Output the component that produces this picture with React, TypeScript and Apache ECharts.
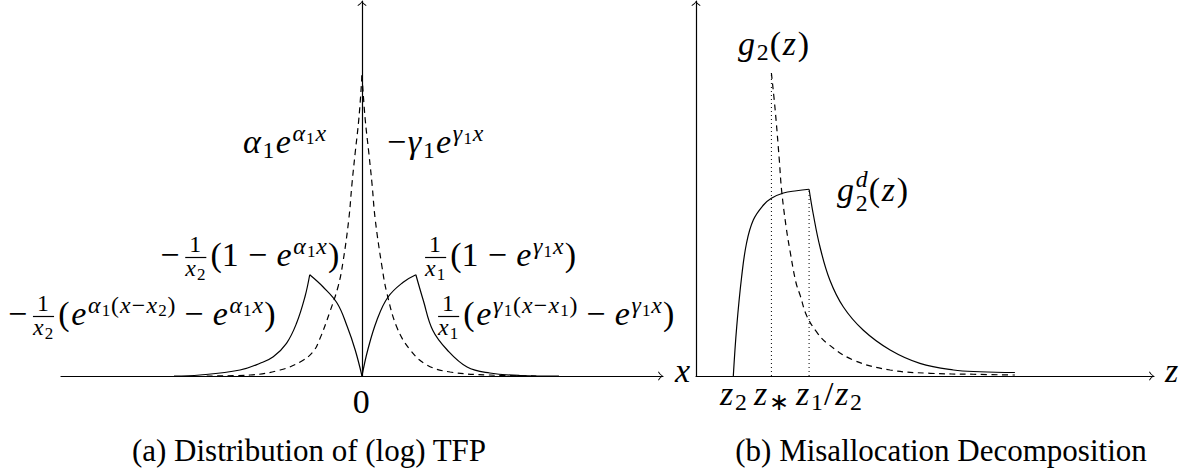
import React, { useEffect, useRef } from 'react';
import * as echarts from 'echarts';

// ---------------- data ----------------
// Panel (a): x in units where x1 = 1, x2 = -1 ; y = density
const aDashedLeft: number[][] = [
  [-2.94, 0], [-2.12, 0.013], [-1.55, 0.08], [-1.17, 0.187], [-0.93, 0.32], [-0.8, 0.493],
  [-0.61, 0.853], [-0.45, 1.2], [-0.36, 1.52], [-0.25, 2.09], [-0.19, 2.56], [-0.13, 2.97],
  [-0.057, 3.45], [0, 4.01],
];
const aDashedRight: number[][] = [
  [0, 4.01], [0.057, 3.45], [0.13, 2.97], [0.19, 2.56], [0.25, 2.09], [0.38, 1.45],
  [0.47, 1.11], [0.66, 0.65], [0.91, 0.35], [1.23, 0.147], [1.67, 0.053], [2.42, 0.013], [3.3, 0],
];
const aSolidOuterLeft: number[][] = [
  [-3.56, 0], [-3.07, 0.013], [-2.31, 0.08], [-1.93, 0.17], [-1.68, 0.257], [-1.43, 0.436],
  [-1.24, 0.703], [-1.08, 1.057], [-0.99, 1.35],
];
const aSolidInnerLeft: number[][] = [
  [-0.99, 1.35], [-0.74, 1.19], [-0.47, 0.97], [-0.28, 0.66], [-0.13, 0.35], [0, 0],
];
const aSolidInnerRight: number[][] = [
  [0, 0], [0.11, 0.35], [0.28, 0.74], [0.49, 1.05], [0.78, 1.25], [1.02, 1.35],
];
const aSolidOuterRight: number[][] = [
  [1.02, 1.35], [1.16, 1.01], [1.34, 0.61], [1.61, 0.35], [1.99, 0.12], [2.42, 0.04],
  [2.99, 0.007], [3.73, 0],
];

// Panel (b): z in units where z2 = 1, z* = 2, z1/z2 = 3
const bSolidRise: number[][] = [
  [0.99, 0], [1.08, 0.657], [1.21, 1.32], [1.34, 1.77], [1.52, 2.08], [1.79, 2.28],
  [2.0, 2.37], [2.32, 2.44], [2.67, 2.47], [3.0, 2.49],
];
const bSolidFall: number[][] = [
  [3.0, 2.49], [3.11, 2.16], [3.29, 1.72], [3.55, 1.28], [3.91, 0.92], [4.44, 0.61],
  [5.15, 0.347], [5.94, 0.169], [6.83, 0.08], [7.53, 0.057], [8.46, 0.047],
];
const bDashed: number[][] = [
  [2.0, 4.04], [2.1, 3.55], [2.21, 2.88], [2.27, 2.48], [2.39, 1.99], [2.49, 1.68],
  [2.65, 1.25], [2.76, 1.08], [2.94, 0.8], [3.2, 0.587], [3.47, 0.44], [4.17, 0.213],
  [5.15, 0.08], [6.21, 0.036], [7.36, 0.023], [8.46, 0.013],
];
const bDottedZStar: number[][] = [[2.0, 0], [2.0, 4.04]];
const bDottedZ1Z2: number[][] = [[3.0, 0], [3.0, 2.49]];

const captionA = '(a) Distribution of (log) TFP';
const captionB = '(b) Misallocation Decomposition';

// ---------------- math text layout ----------------
const FAMILY = 'Liberation Serif';
const C = 0.34;      // central baseline offset (em)
const KERN = 0.05;   // extra advance per glyph (em of its own size)
type Tok = { t: string; s?: number; it?: boolean; dy?: number; adv?: boolean; pre?: number; post?: number };
type Frac = { num: Tok[]; den: Tok[] };
type Item = Tok | Frac;

let mctx: CanvasRenderingContext2D | null = null;
function measure(t: string, size: number, it: boolean) {
  if (!mctx) mctx = document.createElement('canvas').getContext('2d');
  mctx!.font = `${it ? 'italic ' : ''}${size}px "${FAMILY}"`;
  return mctx!.measureText(t).width;
}
function textStyle(text: string, size: number, it: boolean, align = 'left') {
  return {
    text, fontSize: size, fontFamily: FAMILY, fontStyle: it ? 'italic' : 'normal', fontWeight: 'normal',
    fill: '#000', align, verticalAlign: 'middle',
  };
}
const R = (t: string, o: Partial<Tok> = {}): Tok => ({ t, ...o });
const I = (t: string, o: Partial<Tok> = {}): Tok => ({ t, it: true, ...o });
const SUP = { s: 0.7, dy: -0.363 };
const SUPSUB = { s: 0.5, dy: -0.258 };
const SUB = { s: 0.7, dy: 0.15 };
const BIN = { pre: 0.222, post: 0.222 };
const FR = (d: string): Frac => ({ num: [R('1', { s: 0.7 })], den: [I('x', { s: 0.7 }), R(d, { s: 0.5, dy: 0.105 })] });

function tokAdv(k: Tok, F: number) {
  const s = k.s ?? 1;
  return measure(k.t, s * F, !!k.it) + KERN * s * F;
}
function itemW(it: Item, F: number): number {
  if ('num' in it) return 0.24 * F + Math.max(runW(it.num, F), runW(it.den, F));
  return (it.pre ?? 0) * F + (it.adv === false ? 0 : tokAdv(it, F)) + (it.post ?? 0) * F;
}
function runW(items: Item[], F: number) { return items.reduce((a, it) => a + itemW(it, F), 0); }

function emitRun(items: Item[], x: number, base: number, F: number, out: any[]) {
  let cx = x;
  for (const it of items) {
    if ('num' in it) {
      const nw = runW(it.num, F), dw = runW(it.den, F), w = Math.max(nw, dw);
      const bx = cx + 0.12 * F;
      const axis = base - 0.25 * F;
      out.push({ type: 'rect', silent: true, shape: { x: bx, y: axis - 0.6, width: w, height: 1.2 }, style: { fill: '#000' } });
      emitRun(it.num, bx + (w - nw) / 2, axis - 0.17 * F, F, out);
      emitRun(it.den, bx + (w - dw) / 2, axis + 0.56 * F, F, out);
      cx += w + 0.24 * F;
    } else {
      const size = (it.s ?? 1) * F;
      cx += (it.pre ?? 0) * F;
      out.push({
        type: 'text', silent: true, x: cx, y: base + (it.dy ?? 0) * F - C * size,
        style: textStyle(it.t, size, !!it.it),
      });
      if (it.adv !== false) cx += tokAdv(it, F);
      cx += (it.post ?? 0) * F;
    }
  }
}
function math(items: Item[], x: number, base: number, F: number, align: 'left' | 'center' | 'right', out: any[]) {
  const w = runW(items, F);
  const x0 = align === 'left' ? x : align === 'center' ? x - w / 2 : x - w;
  emitRun(items, x0, base, F, out);
}

const labA1: Item[] = [I('α'), R('1', SUB), I('e'), I('α', SUP), R('1', SUPSUB), I('x', SUP)];
const labA2: Item[] = [R('−'), I('γ'), R('1', SUB), I('e'), I('γ', SUP), R('1', SUPSUB), I('x', SUP)];
const labA3: Item[] = [R('−'), FR('2'), R('(1'), R('−', BIN), I('e'), I('α', SUP), R('1', SUPSUB), I('x', SUP), R(')')];
const labA4: Item[] = [FR('1'), R('(1'), R('−', BIN), I('e'), I('γ', SUP), R('1', SUPSUB), I('x', SUP), R(')')];
const labA5: Item[] = [R('−'), FR('2'), R('('), I('e'), I('α', SUP), R('1', SUPSUB), R('(', SUP), I('x', SUP), R('−', SUP), I('x', SUP), R('2', SUPSUB), R(')', SUP),
  R('−', BIN), I('e'), I('α', SUP), R('1', SUPSUB), I('x', SUP), R(')')];
const labA6: Item[] = [FR('1'), R('('), I('e'), I('γ', SUP), R('1', SUPSUB), R('(', SUP), I('x', SUP), R('−', SUP), I('x', SUP), R('1', SUPSUB), R(')', SUP),
  R('−', BIN), I('e'), I('γ', SUP), R('1', SUPSUB), I('x', SUP), R(')')];
const labG2: Item[] = [I('g'), R('2', SUB), R('('), I('z'), R(')')];
const labG2d: Item[] = [I('g'), I('d', { s: 0.7, dy: -0.42, adv: false }), R('2', { s: 0.7, dy: 0.3 }), R('('), I('z'), R(')')];
const labZ2: Item[] = [I('z'), R('2', SUB)];
const labZs: Item[] = [I('z'), R('∗', SUB)];
const labZ12: Item[] = [I('z'), R('1', SUB), R('/'), I('z'), R('2', SUB)];

const ARROW = 'path://M9 0Q6 5.5 0 8.5L1 10Q6.5 7.5 9 2.4Q11.5 7.5 17 10L18 8.5Q12 5.5 9 0Z';

function axisLine(onZero: boolean) {
  return {
    show: true, onZero,
    symbol: ['none', ARROW], symbolSize: [9, 5], symbolOffset: [0, -2.5],
    lineStyle: { color: '#000', width: 1.2 },
  };
}
const hidden = { axisTick: { show: false }, axisLabel: { show: false }, splitLine: { show: false } };

function line(data: number[][], idx: number, kind: 'solid' | 'dashed' | 'dotted', smooth: number | boolean = 0.4) {
  return {
    type: 'line', data, xAxisIndex: idx, yAxisIndex: idx, symbol: 'none', showSymbol: false, silent: true,
    smooth, clip: false,
    lineStyle: {
      color: '#000', width: kind === 'dotted' ? 1 : 1.2,
      type: kind === 'solid' ? 'solid' : kind === 'dashed' ? [6, 4.5] : [1, 3],
    },
  };
}

function buildOption() {
  const F = 34;
  const g: any[] = [];
  math(labA1, 243, 153, F, 'left', g);
  math(labA2, 387, 153, F, 'left', g);
  math(labA3, 341, 266, F, 'right', g);
  math(labA4, 421, 266, F, 'left', g);
  math(labA5, 8, 325, F, 'left', g);
  math(labA6, 434, 325, F, 'left', g);
  math([R('0')], 362, 413, F, 'center', g);
  math([I('x')], 675, 382, F, 'left', g);
  math([I('z')], 1165, 382, F, 'left', g);
  math(labG2, 738, 55, F, 'left', g);
  math(labG2d, 837, 201, F, 'left', g);
  math(labZ2, 734, 405, F, 'center', g);
  math(labZs, 772, 405, F, 'center', g);
  math(labZ12, 796, 405, F, 'left', g);
  for (const [t, cx] of [[captionA, 309], [captionB, 941]] as [string, number][]) {
    g.push({ type: 'text', silent: true, x: cx, y: 461 - C * 31, style: textStyle(t, 31, false, 'center') });
  }

  return {
    animation: false,
    backgroundColor: '#fff',
    grid: [
      { left: 61, top: 1, width: 602, height: 375, outerBoundsMode: 'none' },
      { left: 696, top: 1, width: 458, height: 375, outerBoundsMode: 'none' },
    ],
    xAxis: [
      { gridIndex: 0, type: 'value', min: -5.7, max: 5.7, axisLine: axisLine(true), ...hidden },
      { gridIndex: 1, type: 'value', min: 0, max: 12.15, axisLine: axisLine(true), ...hidden },
    ],
    yAxis: [
      { gridIndex: 0, type: 'value', min: 0, max: 5, axisLine: axisLine(true), ...hidden },
      { gridIndex: 1, type: 'value', min: 0, max: 5, axisLine: axisLine(false), ...hidden },
    ],
    series: [
      line(aDashedLeft, 0, 'dashed'),
      line(aDashedRight, 0, 'dashed'),
      line(aSolidOuterLeft, 0, 'solid'),
      line(aSolidInnerLeft, 0, 'solid'),
      line(aSolidInnerRight, 0, 'solid'),
      line(aSolidOuterRight, 0, 'solid'),
      line(bSolidRise, 1, 'solid'),
      line(bSolidFall, 1, 'solid'),
      line(bDashed, 1, 'dashed'),
      line(bDottedZStar, 1, 'dotted', false),
      line(bDottedZ1Z2, 1, 'dotted', false),
    ],
    graphic: { elements: g },
  };
}

export default function App() {
  const ref = useRef<HTMLDivElement>(null);
  useEffect(() => {
    const chart = echarts.init(ref.current!, null, { renderer: 'svg', width: 1180, height: 475 });
    chart.setOption(buildOption() as any);
    return () => chart.dispose();
  }, []);
  return <div ref={ref} style={{ position: 'fixed', left: 0, top: 0, width: 1180, height: 475, background: '#fff' }} />;
}
